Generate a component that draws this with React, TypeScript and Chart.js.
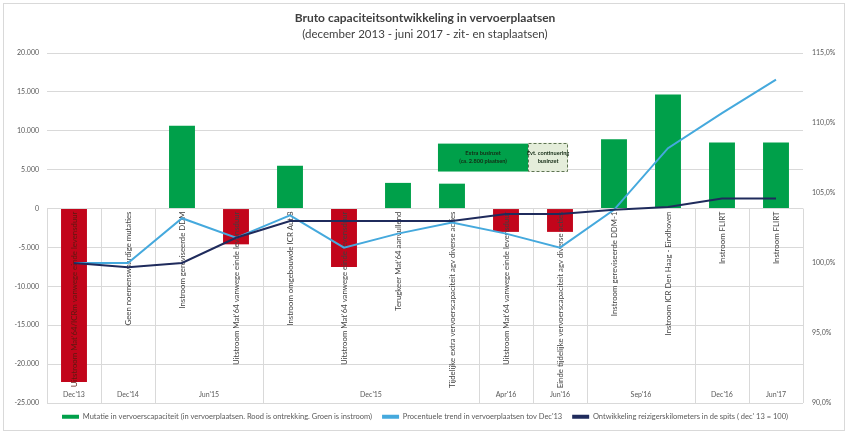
import React, { useEffect, useRef } from "react";
import { Chart, registerables } from "chart.js";

Chart.register(...registerables);

// ---------- data ----------
const chartTitle = "Bruto capaciteitsontwikkeling in vervoerplaatsen";
const chartSubtitle = "(december 2013 - juni 2017 - zit- en staplaatsen)";

const periodGroups = [
  "Dec'13", "Dec'14", "Jun'15", "Jun'15", "Dec'15", "Dec'15", "Dec'15", "Dec'15",
  "Apr'16", "Jun'16", "Sep'16", "Sep'16", "Dec'16", "Jun'17",
];

const mutationLabels = [
  "Uitstroom Mat'64/ICRm vanwege einde levensduur",
  "Geen noemenswaardige mutaties",
  "Instroom gereviseerde DDM",
  "Uitstroom Mat'64 vanwege einde levensduur",
  "Instroom omgebouwde ICR Aut.8",
  "Uitstroom Mat'64 vanwege einde levensduur",
  "Terugkeer Mat'64 aanvullend",
  "Tijdelijke extra vervoerscapaciteit agv diverse acties",
  "Uitstroom Mat'64 vanwege einde levensduur",
  "Einde tijdelijke vervoerscapaciteit agv diverse acties",
  "Instroom gereviseerde DDM-1",
  "Instroom ICR Den Haag - Eindhoven",
  "Instroom FLIRT",
  "Instroom FLIRT",
];

const capacityMutation = [
  -22300, 0, 10650, -4600, 5500, -7500, 3300, 3200, -3000, -3000, 8900, 14650, 8500, 8500,
];

const capacityTrendPct = [
  100.0, 100.0, 103.2, 101.8, 103.4, 101.1, 102.1, 102.9, 102.1, 101.1, 103.8, 108.2, 110.7, 113.1,
];

const passengerKmIndex = [
  100.0, 99.7, 100.0, 101.8, 103.0, 103.0, 103.0, 103.0, 103.5, 103.5, 103.8, 104.0, 104.6, 104.6,
];

const seriesNames = [
  "Mutatie in vervoerscapaciteit (in vervoerplaatsen. Rood is ontrekking. Groen is instroom)",
  "Procentuele trend in vervoerplaatsen tov Dec'13",
  "Ontwikkeling reizigerskilometers in de spits ( dec' 13 = 100)",
];

const annotationTexts = [
  ["Extra businzet", "(ca. 2.800 plaatsen)"],
  ["Evt. continuering", "businzet"],
];

// ---------- style ----------
const FONT = "Lato, 'Open Sans', 'DejaVu Sans', sans-serif";
const RED = "#C2051B";
const GREEN = "#00A04A";
const LIGHT_BLUE = "#45A9DD";
const NAVY = "#1F2B5C";
const GRID = "#D9D9D9";
const AXIS_TEXT = "#595959";

// annotation placement in data units (category index / left-axis value)
const annotationPlacement = [
  { xFrom: 6.74, xTo: 8.41, yFrom: 4760, yTo: 8350, fill: GREEN, dashed: false },
  { xFrom: 8.41, xTo: 9.15, yFrom: 4740, yTo: 8460, fill: "#E4EDDA", dashed: true },
];

function formatThousands(v: number): string {
  const sign = v < 0 ? "-" : "";
  const s = Math.abs(Math.round(v)).toString();
  return sign + s.replace(/\B(?=(\d{3})+(?!\d))/g, ".");
}

const decorPlugin = {
  id: "decor",
  beforeDraw(chart: any) {
    const { ctx, width, height } = chart;
    ctx.save();
    ctx.fillStyle = "#ffffff";
    ctx.fillRect(0, 0, width, height);
    ctx.strokeStyle = GRID;
    ctx.lineWidth = 1;
    ctx.strokeRect(3.5, 3.5, width - 7, height - 6);
    ctx.restore();
  },
  beforeDatasetsDraw(chart: any) {
    const { ctx, chartArea } = chart;
    const x = chart.scales.x;
    const y = chart.scales.y;
    const zeroY = y.getPixelForValue(0);
    const half = (x.getPixelForValue(1) - x.getPixelForValue(0)) / 2;
    const groups: { label: string; from: number; to: number }[] = [];
    let start = 0;
    for (let i = 1; i <= periodGroups.length; i++) {
      if (i === periodGroups.length || periodGroups[i] !== periodGroups[start]) {
        groups.push({ label: periodGroups[start], from: start, to: i - 1 });
        start = i;
      }
    }
    ctx.save();
    ctx.strokeStyle = GRID;
    ctx.lineWidth = 1;
    const edges: number[] = [];
    groups.forEach((g) => edges.push(x.getPixelForValue(g.from) - half));
    edges.push(x.getPixelForValue(groups[groups.length - 1].to) + half);
    edges.forEach((ex) => {
      const px = Math.round(ex) + 0.5;
      ctx.beginPath();
      ctx.moveTo(px, zeroY);
      ctx.lineTo(px, chartArea.bottom);
      ctx.stroke();
    });
    ctx.fillStyle = AXIS_TEXT;
    ctx.font = `7px ${FONT}`;
    ctx.textAlign = "center";
    ctx.textBaseline = "middle";
    groups.forEach((g) => {
      const cx = (x.getPixelForValue(g.from) + x.getPixelForValue(g.to)) / 2;
      ctx.fillText(g.label, cx, chartArea.bottom - 8);
    });
    ctx.restore();
  },
  afterDatasetDraw(chart: any, args: any) {
    if (args.index !== 0) return;
    const { ctx } = chart;
    const x = chart.scales.x;
    const y = chart.scales.y;
    const zeroY = y.getPixelForValue(0);
    ctx.save();
    ctx.font = `7.8px ${FONT}`;
    ctx.textAlign = "right";
    ctx.textBaseline = "middle";
    mutationLabels.forEach((label, i) => {
      const px = x.getPixelForValue(i);
      ctx.save();
      ctx.translate(px, zeroY + 3);
      ctx.rotate(-Math.PI / 2);
      ctx.fillStyle = i === 0 ? "#5a1a10" : "#404040";
      ctx.fillText(label, 0, 0);
      ctx.restore();
    });
    ctx.restore();
  },
  afterDatasetsDraw(chart: any) {
    const { ctx } = chart;
    const x = chart.scales.x;
    const y = chart.scales.y;
    ctx.save();
    annotationPlacement.forEach((a, k) => {
      const x0 = x.getPixelForValue(a.xFrom);
      const x1 = x.getPixelForValue(a.xTo);
      const y0 = y.getPixelForValue(a.yTo);
      const y1 = y.getPixelForValue(a.yFrom);
      ctx.fillStyle = a.fill;
      ctx.fillRect(x0, y0, x1 - x0, y1 - y0);
      if (a.dashed) {
        ctx.setLineDash([3, 2]);
        ctx.strokeStyle = "#5E7452";
        ctx.lineWidth = 1;
        ctx.strokeRect(Math.round(x0) + 0.5, Math.round(y0) + 0.5, Math.round(x1 - x0) - 1, Math.round(y1 - y0) - 1);
        ctx.setLineDash([]);
      }
      const lines = annotationTexts[k];
      ctx.fillStyle = "#132A14";
      ctx.font = `bold 5.6px ${FONT}`;
      ctx.textAlign = "center";
      ctx.textBaseline = "middle";
      const cx = (x0 + x1) / 2;
      const cy = (y0 + y1) / 2;
      const lh = 8;
      lines.forEach((t, j) => {
        ctx.fillText(t, cx, cy + (j - (lines.length - 1) / 2) * lh);
      });
    });
    ctx.restore();
  },
};

export default function App() {
  const canvasRef = useRef<HTMLCanvasElement | null>(null);

  useEffect(() => {
    document.body.style.margin = "0";
    const canvas = canvasRef.current;
    if (!canvas) return;

    const chart = new Chart(canvas, {
      type: "bar",
      data: {
        labels: mutationLabels,
        datasets: [
          {
            type: "bar",
            label: seriesNames[0],
            data: capacityMutation,
            backgroundColor: capacityMutation.map((v) => (v < 0 ? RED : GREEN)),
            borderWidth: 0,
            barPercentage: 0.48,
            categoryPercentage: 1,
            yAxisID: "y",
            order: 2,
          } as any,
          {
            type: "line",
            label: seriesNames[1],
            data: capacityTrendPct,
            borderColor: LIGHT_BLUE,
            backgroundColor: LIGHT_BLUE,
            borderWidth: 2,
            pointRadius: 0,
            tension: 0,
            yAxisID: "y1",
            order: 1,
          } as any,
          {
            type: "line",
            label: seriesNames[2],
            data: passengerKmIndex,
            borderColor: NAVY,
            backgroundColor: NAVY,
            borderWidth: 2,
            pointRadius: 0,
            tension: 0,
            yAxisID: "y1",
            order: 0,
          } as any,
        ],
      },
      options: {
        animation: false,
        responsive: true,
        maintainAspectRatio: false,
        events: [],
        layout: { padding: { left: 0, right: 0, top: 0, bottom: 2.5 } },
        scales: {
          x: {
            type: "category",
            display: false,
            offset: true,
          },
          y: {
            type: "linear",
            position: "left",
            min: -25000,
            max: 20000,
            ticks: {
              stepSize: 5000,
              padding: 8,
              color: AXIS_TEXT,
              font: { family: FONT, size: 7 },
              callback: (v: any) => formatThousands(Number(v)),
            },
            grid: { color: GRID, lineWidth: 1, drawTicks: false },
            border: { display: false },
            afterFit: (scale: any) => {
              scale.width = 47;
            },
          },
          y1: {
            type: "linear",
            position: "right",
            min: 90,
            max: 115,
            ticks: {
              stepSize: 5,
              padding: 9,
              color: AXIS_TEXT,
              font: { family: FONT, size: 7 },
              callback: (v: any) => Number(v).toFixed(1).replace(".", ",") + "%",
            },
            grid: { display: false, drawTicks: false },
            border: { display: false },
            afterFit: (scale: any) => {
              scale.width = 45;
            },
          },
        },
        plugins: {
          title: {
            display: true,
            text: chartTitle,
            fullSize: false,
            color: "#404040",
            font: { family: FONT, size: 12, weight: "bold" },
            padding: { top: 10.8, bottom: 1 },
          },
          subtitle: {
            display: true,
            text: chartSubtitle,
            fullSize: false,
            color: "#404040",
            font: { family: FONT, size: 11.5 },
            padding: { top: 0.9, bottom: 12.1 },
          },
          legend: {
            display: true,
            position: "bottom",
            align: "center",
            fullSize: false,
            labels: {
              color: AXIS_TEXT,
              font: { family: FONT, size: 7.5 },
              boxWidth: 17,
              boxHeight: 4,
              padding: 10,
              sort: (a: any, b: any) => a.datasetIndex - b.datasetIndex,
              generateLabels: (ch: any) => {
                const items = (Chart.defaults.plugins.legend.labels as any).generateLabels(ch);
                items.forEach((it: any) => {
                  const colors = [GREEN, LIGHT_BLUE, NAVY];
                  it.fillStyle = colors[it.datasetIndex];
                  it.strokeStyle = colors[it.datasetIndex];
                  it.lineWidth = 0;
                });
                return items;
              },
            },
          },
          tooltip: { enabled: false },
        },
      } as any,
      plugins: [decorPlugin],
    });

    return () => {
      chart.destroy();
    };
  }, []);

  return (
    <div style={{ width: 848, height: 433, position: "relative" }}>
      <canvas ref={canvasRef} />
    </div>
  );
}
